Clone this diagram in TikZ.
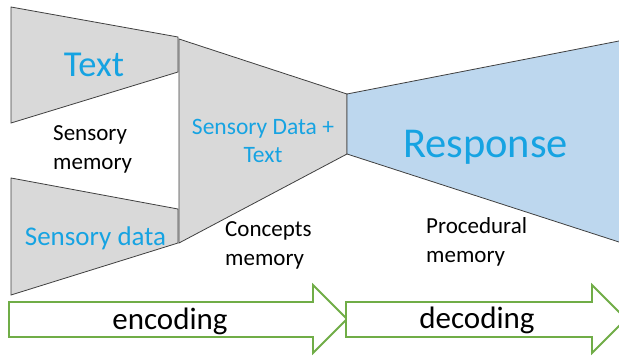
\documentclass[tikz,border=0pt]{standalone}
\usepackage{fontspec}
\setmainfont{Carlito}
\definecolor{labelblue}{RGB}{22,163,226}
\definecolor{stagegray}{RGB}{217,217,217}
\definecolor{respblue}{RGB}{189,215,238}
\definecolor{edgegray}{RGB}{64,64,64}
\definecolor{flowgreen}{RGB}{112,173,71}
\tikzset{
  stage/.style={draw=edgegray, line width=0.8pt, line join=miter},
  flow/.style={draw=flowgreen, fill=white, line width=1.8pt, line join=miter},
  bluelabel/.style={text=labelblue, inner sep=0pt, anchor=base},
  memlabel/.style={text=black, inner sep=0pt, anchor=base west,
    font=\fontsize{23}{29}\selectfont},
  flowlabel/.style={text=black, inner sep=0pt, anchor=base,
    font=\fontsize{31}{36}\selectfont},
}
\begin{document}
\begin{tikzpicture}[x=1pt, y=-1pt]
\clip (0,0) rectangle (619,356);
\fill[white] (0,0) rectangle (619,356);

% input stages
\draw[stage, fill=stagegray] (11,7) -- (178,37) -- (178,72) -- (11,123) -- cycle;
\draw[stage, fill=stagegray] (11,178) -- (178,209) -- (178,243) -- (11,295) -- cycle;
% concepts stage
\draw[stage, fill=stagegray] (179,39) -- (347,94) -- (347,154) -- (179,243) -- cycle;
% response stage, opening beyond the right edge
\draw[stage, fill=respblue] (347,94) -- (640,36.9) -- (640,248.8) -- (347,154) -- cycle;

% labels inside the stages
\node[bluelabel, font=\fontsize{36.5}{40}\selectfont] (txt) at (94,76) {Text};
\node[bluelabel, font=\fontsize{27}{30}\selectfont] (sdata) at (95.5,245) {Sensory data};
\node[bluelabel, font=\fontsize{23.5}{28}\selectfont] (comb) at (263,134)
  {\begin{tabular}[t]{@{}c@{}}Sensory Data +\\Text\end{tabular}};
\node[bluelabel, font=\fontsize{42.5}{48}\selectfont] (resp) at (485.5,157) {Response};

% memory captions
\node[memlabel] (smem) at (53,140) {\begin{tabular}[t]{@{}l@{}}Sensory\\memory\end{tabular}};
\node[memlabel] (cmem) at (225,236) {\begin{tabular}[t]{@{}l@{}}Concepts\\memory\end{tabular}};
\node[memlabel] (pmem) at (426,233) {\begin{tabular}[t]{@{}l@{}}Procedural\\memory\end{tabular}};

% encoding / decoding arrows
\draw[flow] (9,302) -- (313,302) -- (313,285) -- (347,319) -- (313,353)
  -- (313,337) -- (9,337) -- cycle;
\draw[flow] (346,302) -- (592,302) -- (592,285) -- (626,319) -- (592,353)
  -- (592,337) -- (346,337) -- cycle;
\node[flowlabel] (enc) at (170,329) {encoding};
\node[flowlabel] (dec) at (477,328) {decoding};
\end{tikzpicture}
\end{document}
